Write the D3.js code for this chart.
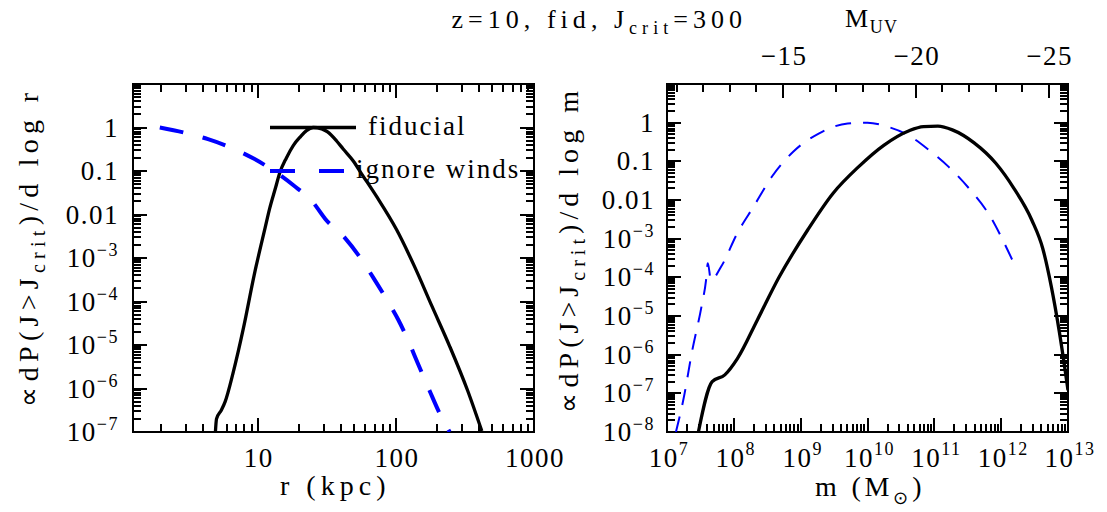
<!DOCTYPE html>
<html>
<head>
<meta charset="utf-8">
<script src="https://cdn.jsdelivr.net/npm/d3@7"></script>
<style>
  body { margin: 0; background: #fff; }
</style>
</head>
<body>
<div id="chart"></div>
<script>
// left panel: radius (kpc) vs normalised dP/dlog r
const fidR = [4.93, 5.02, 5.45, 5.8, 6.6, 7.9, 9.4, 11.3, 12.2, 13.4, 14.4, 16.1, 18, 20.4, 22.5, 25.2,
              29, 32, 37.2, 41.5, 49.1, 55.8, 72.4, 101, 136, 183, 246, 330, 419];
const fidRP = [1.0e-7, 2.0e-7, 3.2e-7, 5.0e-7, 2.2e-6, 2.6e-5, 4.0e-4, 5.0e-3, 0.014, 0.04, 0.09, 0.2, 0.38, 0.62,
               0.85, 1.0, 0.93, 0.79, 0.49, 0.32, 0.17, 0.091, 0.026, 4.5e-3, 6.5e-4, 7.6e-5, 9.1e-6, 9.1e-7, 1.05e-7];
const windR = [1.95, 3.05, 4.36, 6.6, 9.4, 13.1, 18.1, 25.1, 30.8, 42.7, 54.2, 68.7, 84.5, 104, 121, 144, 175, 206, 245];
const windRP = [1.0, 0.74, 0.54, 0.33, 0.19, 0.1, 0.047, 0.019, 7.9e-3, 2.9e-3, 1.1e-3, 3.5e-4, 1.2e-4, 3.8e-5,
                1.4e-5, 3.8e-6, 9.0e-7, 2.8e-7, 1.0e-7];

// right panel: halo mass (Msun) vs normalised dP/dlog m
const fidM = [2.95e7, 4.74e7, 7.33e7, 1.13e8, 2.24e8, 4.74e8, 1.28e9, 3.06e9, 7.33e9, 1.75e10, 4.19e10, 6.89e10,
              1.13e11, 1.86e11, 3.94e11, 8.32e11, 1.55e12, 2.88e12, 4.2e12, 5.6e12, 7.4e12, 1e13];
const fidMP = [1.0e-8, 2.0e-7, 3.0e-7, 7.9e-7, 7.8e-6, 1.0e-4, 1.7e-3, 0.015, 0.072, 0.26, 0.62, 0.79,
               0.81, 0.65, 0.30, 0.089, 0.020, 3.0e-3, 5.5e-4, 6.0e-5, 4.0e-6, 1.2e-7];
const windM = [1.36e7, 1.75e7, 2.39e7, 3.27e7, 3.84e7, 4.08e7, 4.55e7, 6.47e7, 1.13e8, 1.98e8, 3.7e8, 7.8e8,
               1.86e9, 5.05e9, 1e10, 1.98e10, 3.7e10, 8.83e10, 1.64e11, 3.47e11, 6.89e11, 1.06e12, 1.55e12];
const windMP = [1.0e-8, 6.6e-8, 1.3e-6, 1.7e-5, 8.5e-5, 2.3e-4, 8.5e-5, 1.9e-4, 1.4e-3, 6.8e-3, 0.04, 0.18,
                0.52, 0.95, 1.0, 0.79, 0.52, 0.18, 0.072, 0.018, 3.7e-3, 9.1e-4, 2.3e-4];

// tick labels
const rTickLabels = [10, 100, 1000];
const mTickExp = [7, 8, 9, 10, 11, 12, 13];
const muvTicks = [-15, -20, -25];
const muvMinor = d3.range(-11, -26, -1);
const yExpLeft = [-7, -6, -5, -4, -3, -2, -1, 0];
const yExpRight = [-8, -7, -6, -5, -4, -3, -2, -1, 0];

const W = 1107, H = 512;
const FONT = "Liberation Serif";
const svg = d3.select("#chart").append("svg")
  .attr("width", W).attr("height", H)
  .attr("font-family", FONT);

const yTop = 84, yBot = 432;
const left = { x0: 133, x1: 534 };
const right = { x0: 667, x1: 1068 };

const xL = d3.scaleLog().domain([10 ** 0.096, 1000]).range([left.x0, left.x1]);
const yL = d3.scaleLog().domain([1e-7, 10]).range([yBot, yTop]);
const xR = d3.scaleLog().domain([1e7, 1e13]).range([right.x0, right.x1]);
const yR = d3.scaleLog().domain([1e-8, 10]).range([yBot, yTop]);
const xUV = d3.scaleLinear().domain([-10.63, -25.73]).range([right.x0, right.x1]);

function logTicks(scale) {
  const [lo, hi] = scale.domain();
  const major = [], minor = [];
  for (let e = Math.floor(Math.log10(lo)); e <= Math.ceil(Math.log10(hi)); e++) {
    const v = 10 ** e;
    if (v >= lo * 0.999 && v <= hi * 1.001) major.push(v);
    for (let k = 2; k < 10; k++) {
      const m = k * v;
      if (m >= lo && m <= hi) minor.push(m);
    }
  }
  return { major, minor };
}

const TW = 2.5; // tick thickness
// tick marks along an edge; dir +1 points down / right; snapped to whole pixels
function xTicks(scale, values, edge, len, dir) {
  for (const v of values) {
    const px = Math.round(scale(v));
    svg.append("line")
      .attr("x1", px).attr("x2", px)
      .attr("y1", edge).attr("y2", edge + dir * len)
      .attr("stroke", "#000").attr("stroke-width", TW)
      .attr("shape-rendering", "crispEdges");
  }
}
function yTicks(scale, values, edge, len, dir) {
  for (const v of values) {
    const py = Math.round(scale(v));
    svg.append("line")
      .attr("y1", py).attr("y2", py)
      .attr("x1", edge).attr("x2", edge + dir * len)
      .attr("stroke", "#000").attr("stroke-width", TW)
      .attr("shape-rendering", "crispEdges");
  }
}

function frame(box, x, y, topTicks) {
  const xt = logTicks(x), yt = logTicks(y);
  xTicks(x, xt.major, yBot, 14, -1);
  xTicks(x, xt.minor, yBot, 8, -1);
  if (topTicks) {
    xTicks(x, xt.major, yTop, 14, 1);
    xTicks(x, xt.minor, yTop, 8, 1);
  }
  yTicks(y, yt.major, box.x0, 14, 1);
  yTicks(y, yt.minor, box.x0, 8, 1);
  yTicks(y, yt.major, box.x1, 14, -1);
  yTicks(y, yt.minor, box.x1, 8, -1);
  svg.append("rect")
    .attr("x", box.x0).attr("y", yTop)
    .attr("width", box.x1 - box.x0).attr("height", yBot - yTop)
    .attr("fill", "none").attr("stroke", "#000").attr("stroke-width", 2)
    .attr("shape-rendering", "crispEdges");
}

function txt(x, y, size) {
  return svg.append("text").attr("x", x).attr("y", y)
    .attr("font-family", FONT).attr("font-size", size)
    .attr("letter-spacing", 1.5).attr("fill", "#000");
}

function yLabels(y, exps, xEnd) {
  exps.forEach(e => {
    const t = txt(xEnd, y(10 ** e) + 9, 27).attr("text-anchor", "end");
    if (e === 0) t.text("1");
    else if (e === -1) t.text("0.1");
    else if (e === -2) t.text("0.01");
    else {
      t.append("tspan").text("10");
      t.append("tspan").attr("dy", -11).attr("font-size", 18).text("\u2212" + (-e));
    }
  });
}

function clip(id, box) {
  svg.append("clipPath").attr("id", id).append("rect")
    .attr("x", box.x0).attr("y", yTop)
    .attr("width", box.x1 - box.x0).attr("height", yBot - yTop);
}

function curve(id, x, y, xs, ys, color, width, dash) {
  const line = d3.line().x(d => x(d[0])).y(d => y(d[1])).curve(d3.curveMonotoneX);
  svg.append("path")
    .datum(d3.zip(xs, ys))
    .attr("clip-path", `url(#${id})`)
    .attr("d", line)
    .attr("fill", "none")
    .attr("stroke", color)
    .attr("stroke-width", width)
    .attr("stroke-dasharray", dash)
    .attr("stroke-linejoin", "round");
}

function yTitle(x, y, tail, len) {
  const t = txt(0, 0, 28)
    .attr("transform", `translate(${x},${y}) rotate(-90)`)
    .attr("text-anchor", "middle")
    .attr("textLength", len).attr("lengthAdjust", "spacing");
  t.append("tspan").text("\u221DdP(J>J");
  t.append("tspan").attr("dy", 7).attr("font-size", 20).text("crit");
  t.append("tspan").attr("dy", -7).text(")/d log " + tail);
}

// ---- left panel ----
clip("clipL", left);
frame(left, xL, yL, true);
curve("clipL", xL, yL, windR, windRP, "#0000ff", 4, "24,20");
curve("clipL", xL, yL, fidR, fidRP, "#000", 3.3, null);
yLabels(yL, yExpLeft, left.x0 - 14);
rTickLabels.forEach(v => {
  txt(xL(v) + 1, 467, 27).attr("text-anchor", "middle").text(v);
});

txt(333.5, 495, 28).attr("text-anchor", "middle")
  .attr("textLength", 107).attr("lengthAdjust", "spacing")
  .text("r (kpc)");

yTitle(38, 249, "r", 315);

// legend
const legX0 = 270, legX1 = 356;
svg.append("line").attr("x1", legX0).attr("x2", legX1)
  .attr("y1", yL(1)).attr("y2", yL(1))
  .attr("stroke", "#000").attr("stroke-width", 3.3);
txt(368, yL(1) + 7, 27).attr("letter-spacing", 2).text("fiducial");
svg.append("line").attr("x1", legX0).attr("x2", legX1)
  .attr("y1", yL(0.1)).attr("y2", yL(0.1))
  .attr("stroke", "#0000ff").attr("stroke-width", 4).attr("stroke-dasharray", "25,24");
txt(356, yL(0.1) + 7, 27).attr("letter-spacing", 2).text("ignore winds");

// ---- right panel ----
clip("clipR", right);
frame(right, xR, yR, false);
xTicks(xUV, muvTicks, yTop, 14, 1);
xTicks(xUV, muvMinor.filter(v => !muvTicks.includes(v)), yTop, 8, 1);
curve("clipR", xR, yR, windM, windMP, "#0000ff", 2, "16,12");
curve("clipR", xR, yR, fidM, fidMP, "#000", 3.3, null);
yLabels(yR, yExpRight, right.x0 - 12);

mTickExp.forEach(e => {
  const t = txt(xR(10 ** e) + 2, 467, 27).attr("text-anchor", "middle");
  t.append("tspan").text("10");
  t.append("tspan").attr("dy", -12).attr("font-size", 18).text(e);
});

muvTicks.forEach(v => {
  txt(xUV(v) + 1, 65, 27).attr("text-anchor", "middle").text("\u2212" + (-v));
});

const mt = txt(869, 496, 28).attr("text-anchor", "middle")
  .attr("textLength", 108).attr("lengthAdjust", "spacing");
mt.append("tspan").text("m (M");
mt.append("tspan").attr("dy", 8).attr("font-size", 18).text("\u2299");
mt.append("tspan").attr("dy", -8).text(")");

yTitle(578, 251, "m", 323);

const muv = txt(845, 27, 26);
muv.append("tspan").text("M");
muv.append("tspan").attr("dy", 6).attr("font-size", 18).text("UV");

// title
const title = txt(597.5, 28, 26).attr("text-anchor", "middle")
  .attr("textLength", 292).attr("lengthAdjust", "spacing");
title.append("tspan").text("z=10, fid, J");
title.append("tspan").attr("dy", 6).attr("font-size", 18).text("crit");
title.append("tspan").attr("dy", -6).text("=300");
</script>
</body>
</html>
